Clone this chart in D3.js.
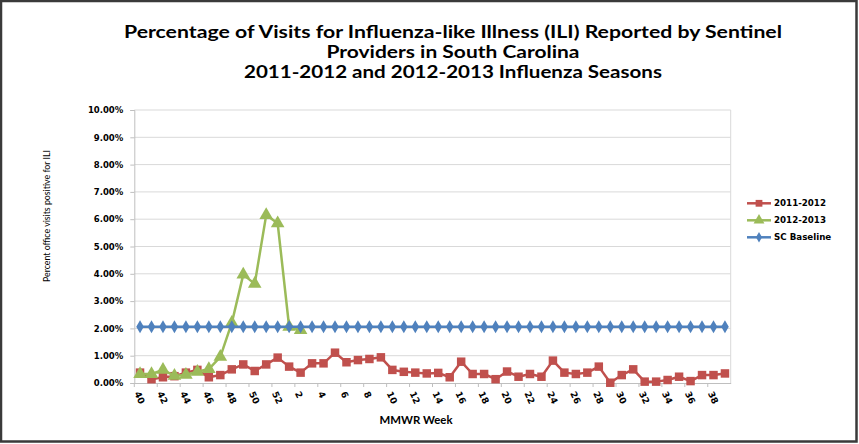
<!DOCTYPE html>
<html>
<head>
<meta charset="utf-8">
<script src="https://cdn.jsdelivr.net/npm/d3@7"></script>
<style>
  body { margin: 0; background: #fff; }
  svg { display: block; }
  .tick-y text, .tick-x text { font-family: "DejaVu Sans", sans-serif; font-weight: bold; font-size: 8.5px; fill: #000; }
</style>
</head>
<body>
<div id="chart"></div>
<script>
// semaines MMWR, saison 40 -> 39
const weeks = [40,41,42,43,44,45,46,47,48,49,50,51,52,
  1,2,3,4,5,6,7,8,9,10,11,12,13,14,15,16,17,18,19,20,
  21,22,23,24,25,26,27,28,29,30,31,32,33,34,35,36,37,38,39];

const season1112 = [0.38,0.14,0.21,0.25,0.38,0.48,0.21,0.29,0.50,0.68,0.44,0.68,0.93,
  0.60,0.38,0.72,0.72,1.11,0.76,0.84,0.88,0.94,0.48,0.41,0.38,0.35,0.37,0.21,0.78,0.33,0.33,0.14,0.42,
  0.23,0.33,0.23,0.82,0.38,0.33,0.38,0.60,0.01,0.29,0.50,0.05,0.05,0.11,0.23,0.07,0.29,0.29,0.35];

const season1213 = [0.33,0.33,0.48,0.26,0.30,0.41,0.51,0.96,2.20,3.97,3.63,6.15,5.85,2.06,1.94];

const baseline = weeks.map(() => 2.06);

const yTicks = [0,1,2,3,4,5,6,7,8,9,10];

const seriesNames = ["2011-2012", "2012-2013", "SC Baseline"];
const seriesColors = ["#C0504D", "#9BBB59", "#4F81BD"];

const W = 859, H = 444;
const plot = { left: 134.3, right: 730.7, top: 110, bottom: 383 };

const svg = d3.select("#chart").append("svg")
  .attr("width", W).attr("height", H);

// cadre
svg.append("rect")
  .attr("x", 1).attr("y", 1).attr("width", W - 3.5).attr("height", H - 3.5)
  .attr("fill", "#fff").attr("stroke", "#3a3a3a").attr("stroke-width", 2.5);

const x = d3.scaleBand().domain(weeks.map((d, i) => i)).range([plot.left, plot.right]);
const y = d3.scaleLinear().domain([0, 10]).range([plot.bottom, plot.top]);
const cx = i => x(i) + x.bandwidth() / 2;

// grille
svg.append("g").selectAll("line").data(yTicks.slice(1)).enter().append("line")
  .attr("x1", plot.left).attr("x2", plot.right)
  .attr("y1", d => y(d)).attr("y2", d => y(d))
  .attr("stroke", "#d9d9d9").attr("stroke-width", 1);

// bord droit de la zone de tracé
svg.append("line")
  .attr("x1", plot.right).attr("x2", plot.right).attr("y1", plot.top).attr("y2", plot.bottom)
  .attr("stroke", "#d9d9d9");

// axe Y
const yAxis = svg.append("g").attr("class", "tick-y")
  .attr("transform", `translate(${plot.left},0)`)
  .call(d3.axisLeft(y).tickValues(yTicks).tickFormat(d => d.toFixed(2) + "%").tickSize(4).tickPadding(7));
yAxis.selectAll("line, path").attr("stroke", "#bfbfbf");

// axe X
const xAxis = svg.append("g").attr("class", "tick-x")
  .attr("transform", `translate(0,${plot.bottom})`)
  .call(d3.axisBottom(x).tickValues([]).tickSizeOuter(0));
xAxis.select("path").attr("stroke", "#bfbfbf");

const xt = svg.append("g");
weeks.forEach((w, i) => {
  if (i % 2 === 0) {
    xt.append("line")
      .attr("x1", x(i)).attr("x2", x(i))
      .attr("y1", plot.bottom).attr("y2", plot.bottom + 4)
      .attr("stroke", "#bfbfbf");
    xt.append("text")
      .attr("transform", `translate(${cx(i) - 3},${plot.bottom + 9}) rotate(65)`)
      .attr("font-family", "DejaVu Sans, sans-serif")
      .attr("font-weight", "bold")
      .attr("font-size", "9px")
      .attr("dy", "0.35em")
      .text(w);
  }
});

// séries
function drawSeries(values, color, marker) {
  const data = values.map((v, i) => ({ i, v }));
  svg.append("path").datum(data)
    .attr("fill", "none").attr("stroke", color).attr("stroke-width", 2.5)
    .attr("stroke-linejoin", "round")
    .attr("d", d3.line().x(d => cx(d.i)).y(d => y(d.v)));
  svg.append("g").selectAll("path").data(data).enter().append("path")
    .attr("transform", d => `translate(${cx(d.i)},${y(d.v)})`)
    .attr("d", marker)
    .attr("fill", color);
}

const sq = d3.symbol().type(d3.symbolSquare).size(72)();
const tri = d3.symbol().type(d3.symbolTriangle).size(80)();
const dia = d3.symbol().type(d3.symbolDiamond).size(50)();

drawSeries(season1112, seriesColors[0], sq);
drawSeries(season1213, seriesColors[1], tri);
drawSeries(baseline, seriesColors[2], dia);

// titre (largeurs)
const titleLines = [
  "Percentage of Visits for Influenza-like Illness (ILI) Reported by Sentinel",
  "Providers in South Carolina",
  "2011-2012 and 2012-2013 Influenza Seasons"
];
const titleWidths = [658, 253, 418];
svg.append("g").selectAll("text").data(titleLines).enter().append("text")
  .attr("x", 453).attr("y", (d, i) => 38 + i * 20)
  .attr("text-anchor", "middle")
  .attr("font-family", "Lato, sans-serif").attr("font-weight", "bold")
  .attr("font-size", "16.5px").attr("fill", "#000")
  .attr("textLength", (d, i) => titleWidths[i])
  .attr("lengthAdjust", "spacingAndGlyphs")
  .text(d => d);

// titres des axes
svg.append("text")
  .attr("transform", "translate(50,216) rotate(-90)")
  .attr("text-anchor", "middle")
  .attr("font-family", "Lato, sans-serif").attr("font-size", "10px")
  .attr("textLength", 132).attr("lengthAdjust", "spacingAndGlyphs")
  .text("Percent office visits positive for ILI");

svg.append("text")
  .attr("x", 416).attr("y", 424)
  .attr("text-anchor", "middle")
  .attr("font-family", "Lato, sans-serif").attr("font-weight", "bold").attr("font-size", "10.5px")
  .attr("textLength", 73).attr("lengthAdjust", "spacingAndGlyphs")
  .text("MMWR Week");

// légende
const markers = [sq, tri, dia];
const legend = svg.selectAll(".legend").data(seriesNames).enter().append("g")
  .attr("class", "legend")
  .attr("transform", (d, i) => `translate(747,${203.3 + i * 17})`);
legend.append("line")
  .attr("x1", 0).attr("x2", 24)
  .attr("stroke", (d, i) => seriesColors[i]).attr("stroke-width", 2.5);
legend.append("path")
  .attr("transform", "translate(12,0) scale(0.8)")
  .attr("d", (d, i) => markers[i])
  .attr("fill", (d, i) => seriesColors[i]);
legend.append("text")
  .attr("x", 27).attr("dy", "0.35em")
  .attr("font-family", "DejaVu Sans, sans-serif").attr("font-weight", "bold").attr("font-size", "8.7px")
  .text(d => d);
</script>
</body>
</html>
